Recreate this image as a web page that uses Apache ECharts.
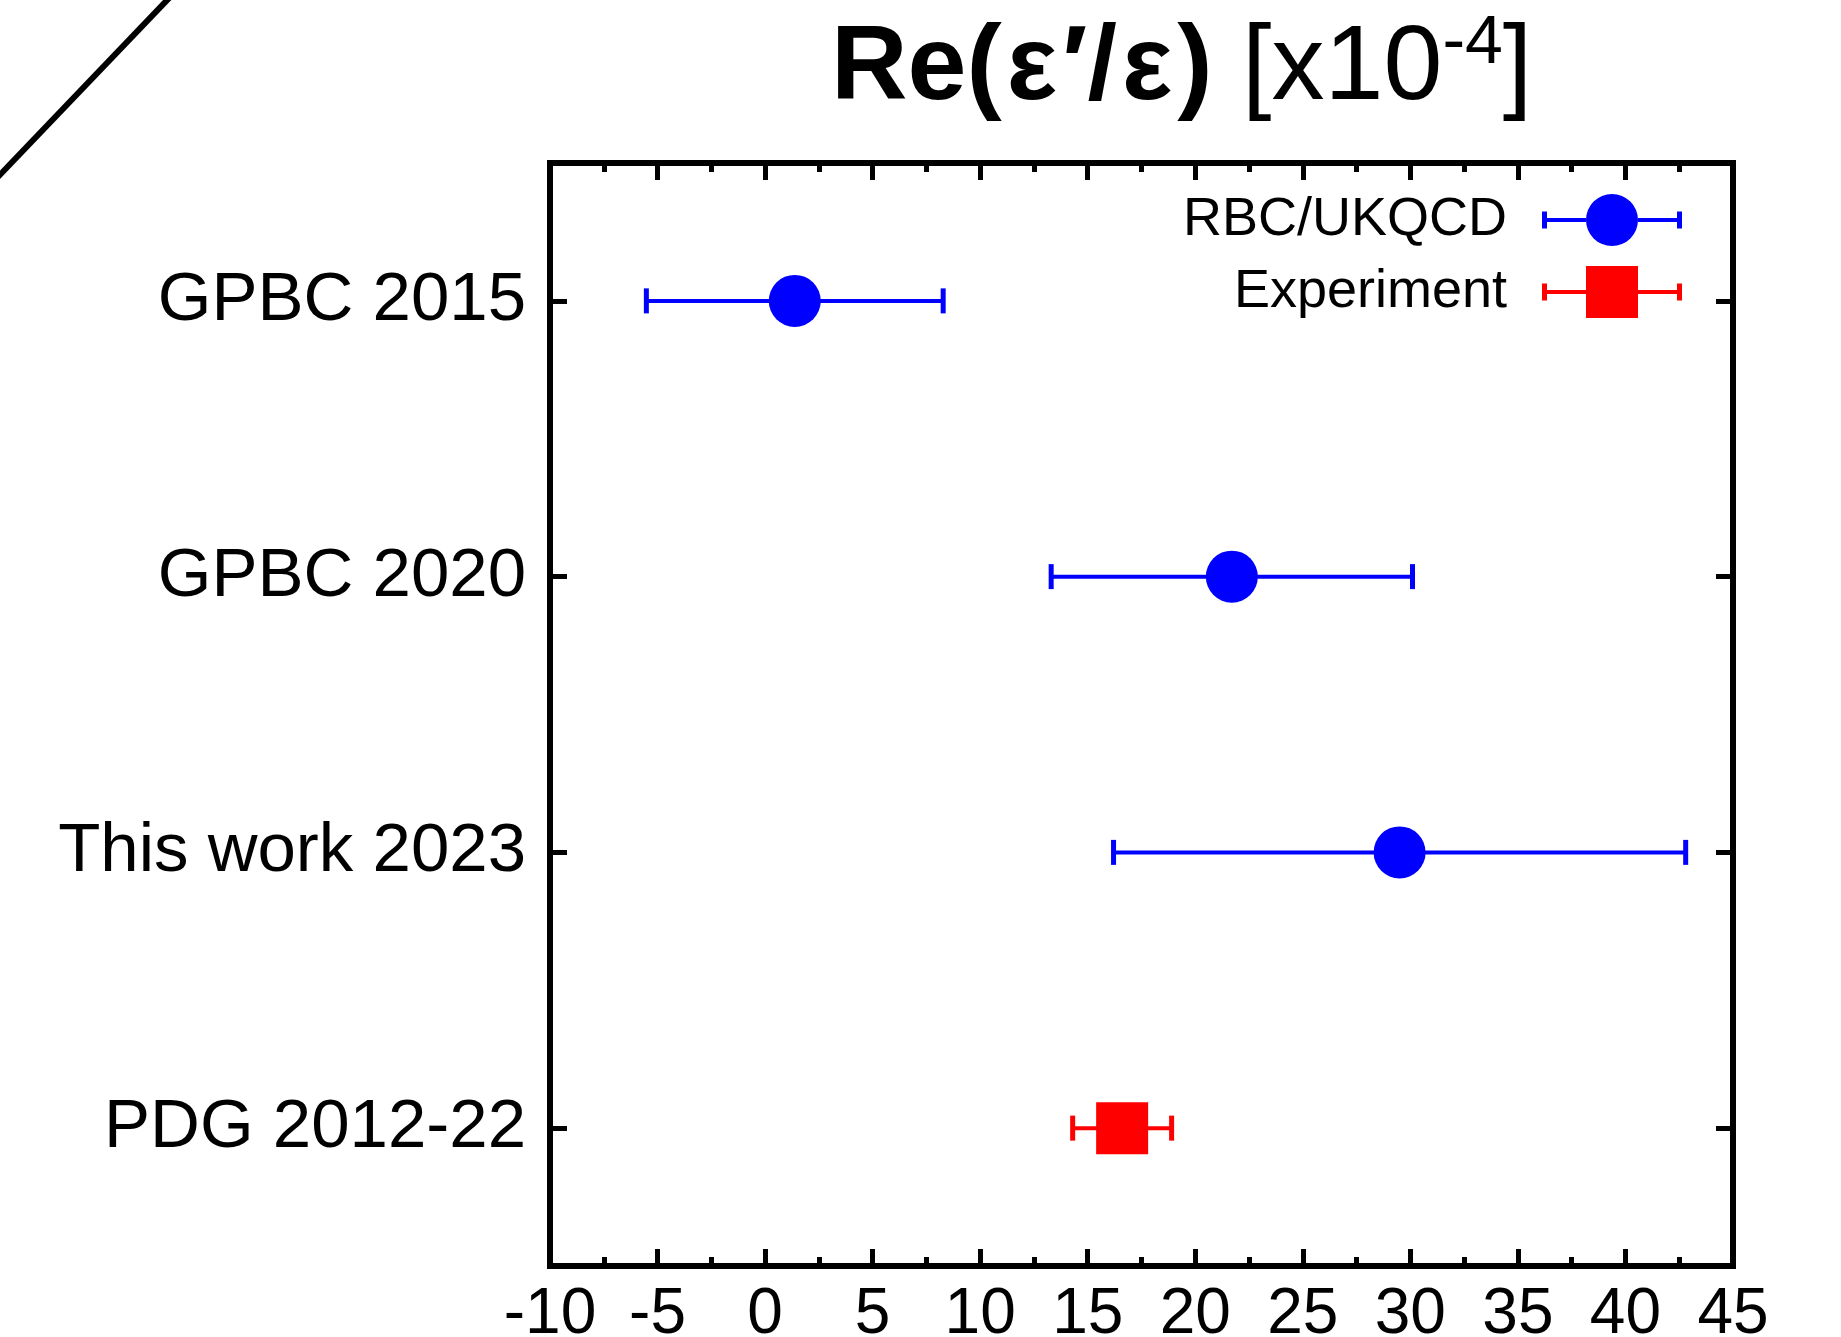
<!DOCTYPE html>
<html>
<head>
<meta charset="utf-8">
<title>Re(ε′/ε)</title>
<script src="https://cdn.jsdelivr.net/npm/echarts@6/dist/echarts.min.js"></script>
<style>
  html, body { margin: 0; padding: 0; background: #ffffff; }
  #chart { width: 1841px; height: 1337px; }
</style>
</head>
<body>
<div id="chart"></div>
<script>
// Rows of the comparison, top to bottom
const categories = ['GPBC 2015', 'GPBC 2020', 'This work 2023', 'PDG 2012-22'];

// Lattice results (central value and symmetric total error), units of 1e-4
const rbcLabels = ['GPBC 2015', 'GPBC 2020', 'This work 2023'];
const rbcCentral = [1.38, 21.7, 29.5];
const rbcError = [6.9, 8.4, 13.3];

// Experimental average
const expLabels = ['PDG 2012-22'];
const expCentral = [16.6];
const expError = [2.3];

// Horizontal axis range and tick step
const xMin = -10;
const xMax = 45;
const xStep = 5;

const FONT = '"Liberation Sans", Arial, Helvetica, sans-serif';
const BLUE = '#0000ff';
const RED = '#ff0000';

function buildPoints(labels, central, err) {
  return labels.map((lab, i) => [central[i], lab, central[i] - err[i], central[i] + err[i]]);
}

// Horizontal error bar with end caps and a marker at the central value
function errorBarRenderer(marker) {
  return function (params, api) {
    const cat = api.value(1);
    const c = api.coord([api.value(0), cat]);
    const lo = api.coord([api.value(2), cat]);
    const hi = api.coord([api.value(3), cat]);
    const color = api.visual('color');
    const capH = 25, capW = 5, size = 52;
    const children = [
      { type: 'line', shape: { x1: lo[0], y1: c[1], x2: hi[0], y2: c[1] },
        style: { stroke: color, lineWidth: 4 } },
      { type: 'rect', shape: { x: lo[0] - capW / 2, y: c[1] - capH / 2, width: capW, height: capH },
        style: { fill: color } },
      { type: 'rect', shape: { x: hi[0] - capW / 2, y: c[1] - capH / 2, width: capW, height: capH },
        style: { fill: color } }
    ];
    if (marker === 'circle') {
      children.push({ type: 'circle', shape: { cx: c[0], cy: c[1], r: size / 2 }, style: { fill: color } });
    } else {
      children.push({ type: 'rect', shape: { x: c[0] - size / 2, y: c[1] - size / 2, width: size, height: size },
        style: { fill: color } });
    }
    return { type: 'group', children: children };
  };
}

// Legend keys: bar + caps + marker, 140 x 52
const circleKey = 'path://M0,17.5L5,17.5L5,24L44,24L44,28L5,28L5,34.5L0,34.5Z' +
  'M96,24L135,24L135,17.5L140,17.5L140,34.5L135,34.5L135,28L96,28Z' +
  'M44,26A26,26,0,1,1,96,26A26,26,0,1,1,44,26Z';
const squareKey = 'path://M0,17.5L5,17.5L5,24L44,24L44,28L5,28L5,34.5L0,34.5Z' +
  'M96,24L135,24L135,17.5L140,17.5L140,34.5L135,34.5L135,28L96,28Z' +
  'M44,0L96,0L96,52L44,52Z';

const tickStyle = { show: true, inside: true, length: 17, lineStyle: { color: '#000', width: 5 } };
const minorStyle = { show: true, splitNumber: 2, length: 9, lineStyle: { color: '#000', width: 5 } };

const xCommon = {
  type: 'value', min: xMin, max: xMax, interval: xStep,
  axisLine: { show: false, onZero: false },
  axisTick: tickStyle,
  minorTick: minorStyle,
  splitLine: { show: false },
  minorSplitLine: { show: false }
};
const yCommon = {
  type: 'category', data: categories, inverse: true,
  axisLine: { show: false, onZero: false },
  axisTick: Object.assign({ alignWithLabel: true }, tickStyle),
  splitLine: { show: false }
};

const chart = echarts.init(document.getElementById('chart'));
chart.setOption({
  animation: false,
  backgroundColor: '#ffffff',
  textStyle: { fontFamily: FONT },
  title: {
    left: 831, top: 10, padding: 0,
    text: '{b|Re(}{e|ε}{b|′/}{e|ε}{b|)}{r| [x10}{s|-4}{r|]}',
    textStyle: {
      rich: {
        b: { fontFamily: FONT, fontSize: 106, fontWeight: 'bold', color: '#000', lineHeight: 120 },
        e: { fontFamily: FONT, fontSize: 106, fontWeight: 'bold', color: '#000', lineHeight: 120, padding: [0, 5, 0, 5] },
        r: { fontFamily: FONT, fontSize: 106, fontWeight: 'normal', color: '#000', lineHeight: 120 },
        s: { fontFamily: FONT, fontSize: 68, fontWeight: 'normal', color: '#000', lineHeight: 95, verticalAlign: 'top' }
      }
    }
  },
  legend: {
    orient: 'vertical', right: 159, top: 193, padding: 0,
    align: 'right', itemWidth: 140, itemHeight: 52, itemGap: 18,
    textStyle: { fontFamily: FONT, fontSize: 54, color: '#000', padding: [0, 30, 0, 0] },
    data: [
      { name: 'RBC/UKQCD', icon: circleKey },
      { name: 'Experiment', icon: squareKey }
    ],
    selectedMode: false
  },
  grid: {
    left: 550, right: 108, top: 163, bottom: 71,
    outerBoundsMode: 'none', containLabel: false,
    show: true, borderColor: '#000', borderWidth: 6, backgroundColor: 'transparent'
  },
  xAxis: [
    Object.assign({}, xCommon, {
      position: 'bottom',
      axisLabel: { fontFamily: FONT, fontSize: 64, color: '#000', margin: 17 }
    }),
    Object.assign({}, xCommon, { position: 'top', axisLabel: { show: false } })
  ],
  yAxis: [
    Object.assign({}, yCommon, {
      position: 'left',
      axisLabel: { fontFamily: FONT, fontSize: 69, color: '#000', margin: 24, padding: [16, 0, 0, 0] }
    }),
    Object.assign({}, yCommon, { position: 'right', axisLabel: { show: false } })
  ],
  series: [
    {
      name: 'RBC/UKQCD', type: 'custom', color: BLUE,
      xAxisIndex: 0, yAxisIndex: 0,
      renderItem: errorBarRenderer('circle'),
      encode: { x: [0, 2, 3], y: 1 },
      data: buildPoints(rbcLabels, rbcCentral, rbcError),
      clip: false, z: 5
    },
    {
      name: 'Experiment', type: 'custom', color: RED,
      xAxisIndex: 0, yAxisIndex: 0,
      renderItem: errorBarRenderer('square'),
      encode: { x: [0, 2, 3], y: 1 },
      data: buildPoints(expLabels, expCentral, expError),
      clip: false, z: 5
    }
  ],
  graphic: [
    {
      type: 'line', silent: true,
      shape: { x1: 172, y1: -5, x2: -5, y2: 180 },
      style: { stroke: '#000', lineWidth: 6 }
    }
  ]
});
</script>
</body>
</html>
